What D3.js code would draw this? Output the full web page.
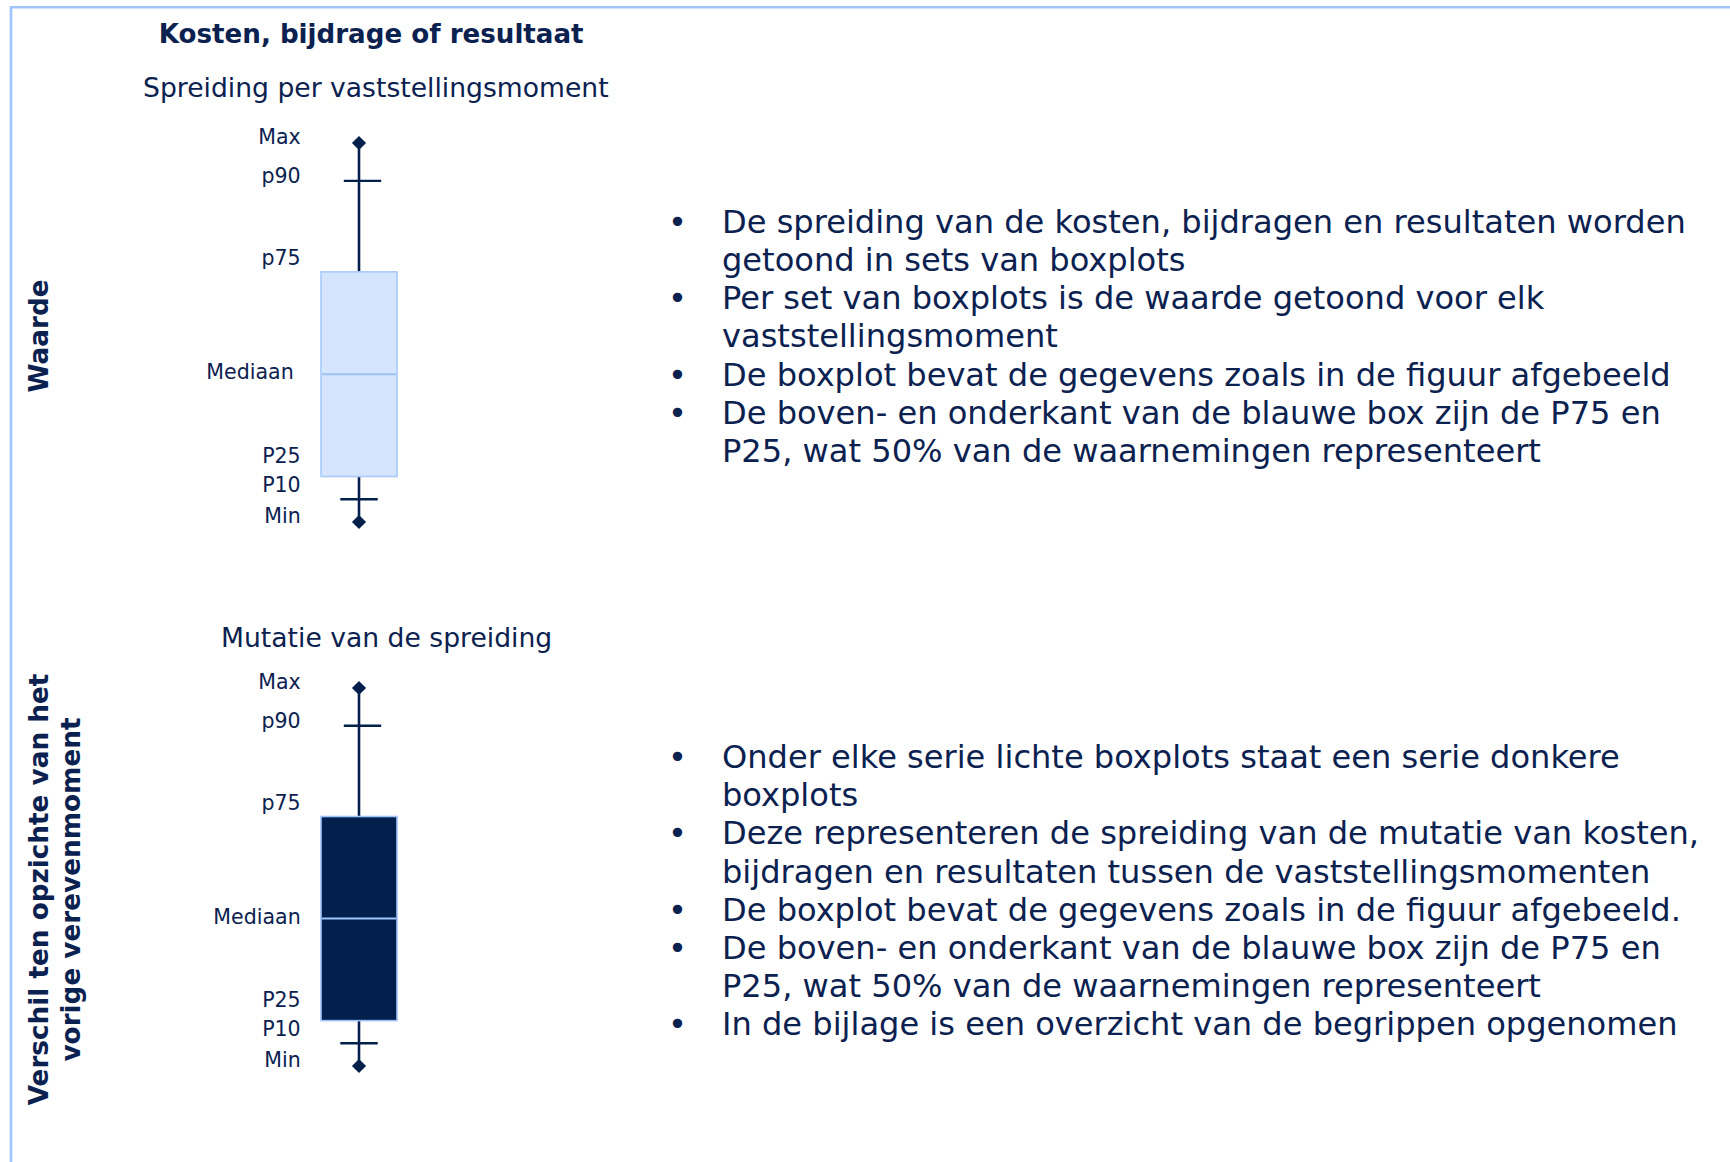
<!DOCTYPE html>
<html>
<head>
<meta charset="utf-8">
<script src="https://cdn.jsdelivr.net/npm/d3@7"></script>
<style>
  html, body { margin: 0; padding: 0; background: #ffffff; }
  svg { display: block; }
</style>
</head>
<body>
<script>
// ---- data -------------------------------------------------------------
const chartTitle = "Kosten, bijdrage of resultaat";
const panelTitles = ["Spreiding per vaststellingsmoment", "Mutatie van de spreiding"];
const rowTitles = [["Waarde"], ["Verschil ten opzichte van het", "vorige verevenmoment"]];

// statistics shown per boxplot, top to bottom
const statKeys = ["max", "p90", "p75", "median", "p25", "p10", "min"];
const statLabels = ["Max", "p90", "p75", "Mediaan", "P25", "P10", "Min"];
const spreadValues = [100, 90, 66, 39, 12, 6, 0];
const mutationValues = [100, 90, 66, 39, 12, 6, 0];

const notesSpread = [
  ["De spreiding van de kosten, bijdragen en resultaten worden", "getoond in sets van boxplots"],
  ["Per set van boxplots is de waarde getoond voor elk", "vaststellingsmoment"],
  ["De boxplot bevat de gegevens zoals in de figuur afgebeeld"],
  ["De boven- en onderkant van de blauwe box zijn de P75 en", "P25, wat 50% van de waarnemingen representeert"]
];
const notesMutation = [
  ["Onder elke serie lichte boxplots staat een serie donkere", "boxplots"],
  ["Deze representeren de spreiding van de mutatie van kosten,", "bijdragen en resultaten tussen de vaststellingsmomenten"],
  ["De boxplot bevat de gegevens zoals in de figuur afgebeeld."],
  ["De boven- en onderkant van de blauwe box zijn de P75 en", "P25, wat 50% van de waarnemingen representeert"],
  ["In de bijlage is een overzicht van de begrippen opgenomen"]
];

// ---- layout & style ---------------------------------------------------
const W = 1730, H = 1162;
const FONT = "Verdana, 'DejaVu Sans', sans-serif";
const INK = "#0b2150";
const NAVY = "#02204b";
const FRAME = "#9fc4fb";

const svg = d3.select("body").append("svg")
  .attr("width", W).attr("height", H)
  .attr("viewBox", `0 0 ${W} ${H}`);

// font size that makes `str` span `target` px
function fitSize(str, target, weight) {
  const t = svg.append("text").attr("font-family", FONT).attr("font-size", 100)
    .attr("font-weight", weight || "normal").text(str);
  const w = t.node().getComputedTextLength();
  t.remove();
  return 100 * target / w;
}

const titleSize = fitSize(chartTitle, 425, "bold");
const subSize = fitSize(panelTitles[0], 466);
const rowSize = fitSize(rowTitles[1][0], 432, "bold");
const statSize = fitSize("Mediaan", 87.4);
const noteSize = fitSize(notesSpread[0][0], 964);

// frame lines
svg.append("line").attr("x1", 11).attr("x2", W).attr("y1", 7.3).attr("y2", 7.3)
  .attr("stroke", FRAME).attr("stroke-width", 2.6);
svg.append("line").attr("x1", 11).attr("x2", 11).attr("y1", 6).attr("y2", H)
  .attr("stroke", FRAME).attr("stroke-width", 2.6);

// main title
svg.append("text").attr("x", 158.8).attr("y", 43.3)
  .attr("font-family", FONT).attr("font-weight", "bold").attr("font-size", titleSize)
  .attr("fill", INK).text(chartTitle);

const panels = [
  { values: spreadValues, yTop: 143, yBottom: 522, titleX: 143, titleY: 96.7,
    rowX: [48.3], rowY: 336, notes: notesSpread, notesY: 232.7,
    boxFill: "#d5e5fd", boxStroke: "#a9caf8", medianStroke: "#9dc2f4", medianShift: -7 },
  { values: mutationValues, yTop: 688, yBottom: 1066, titleX: 221, titleY: 646.7,
    rowX: [48.3, 80], rowY: 889.5, notes: notesMutation, notesY: 768,
    boxFill: NAVY, boxStroke: "#9fc4fb", medianStroke: "#9fc4fb", medianShift: 0 }
];

// baseline nudges of the statistic labels relative to their value
const labelDy = [1, 2, -7, 5, -14, -7, 1];
const capShift = { p90: 3.5, p10: 0 };

const x = d3.scaleBand().domain(["box"]).range([321, 397]).padding(0);
const cx = x("box") + x.bandwidth() / 2;
const capHalf = 18.7;
const diamond = d3.symbol(d3.symbolSquare, 100);
const lineH = 38.2;

panels.forEach((p, pi) => {
  const y = d3.scaleLinear().domain([0, 100]).range([p.yBottom, p.yTop]);
  const s = Object.fromEntries(statKeys.map((k, i) => [k, p.values[i]]));
  const g = svg.append("g");

  // panel subtitle
  g.append("text").attr("x", p.titleX).attr("y", p.titleY)
    .attr("font-family", FONT).attr("font-size", subSize).attr("fill", INK)
    .text(panelTitles[pi]);

  // rotated row title
  rowTitles[pi].forEach((ln, li) => {
    g.append("text")
      .attr("transform", `translate(${p.rowX[li]},${p.rowY}) rotate(-90)`)
      .attr("text-anchor", "middle")
      .attr("font-family", FONT).attr("font-weight", "bold").attr("font-size", rowSize)
      .attr("fill", INK).text(ln);
  });

  // whiskers
  g.append("line").attr("x1", cx).attr("x2", cx).attr("y1", y(s.max)).attr("y2", y(s.p75))
    .attr("stroke", NAVY).attr("stroke-width", 2.6);
  g.append("line").attr("x1", cx).attr("x2", cx).attr("y1", y(s.p25)).attr("y2", y(s.min))
    .attr("stroke", NAVY).attr("stroke-width", 2.6);
  [["p90", s.p90], ["p10", s.p10]].forEach(([k, v]) => {
    g.append("line")
      .attr("x1", cx - capHalf + capShift[k]).attr("x2", cx + capHalf + capShift[k])
      .attr("y1", y(v)).attr("y2", y(v))
      .attr("stroke", NAVY).attr("stroke-width", 2.4);
  });
  [s.max, s.min].forEach(v => {
    g.append("path").attr("d", diamond)
      .attr("transform", `translate(${cx},${y(v)}) rotate(45)`)
      .attr("fill", NAVY);
  });

  // box
  g.append("rect")
    .attr("x", x("box")).attr("width", x.bandwidth())
    .attr("y", y(s.p75)).attr("height", y(s.p25) - y(s.p75))
    .attr("fill", p.boxFill).attr("stroke", p.boxStroke).attr("stroke-width", 1.6);
  g.append("line").attr("x1", x("box") + 1).attr("x2", x("box") + x.bandwidth() - 1)
    .attr("y1", y(s.median)).attr("y2", y(s.median))
    .attr("stroke", p.medianStroke).attr("stroke-width", 2);

  // statistic labels
  statKeys.forEach((k, i) => {
    g.append("text")
      .attr("x", 300.7 + (k === "median" ? p.medianShift : 0))
      .attr("y", y(p.values[i]) + labelDy[i])
      .attr("text-anchor", "end")
      .attr("font-family", FONT).attr("font-size", statSize).attr("fill", INK)
      .text(statLabels[i]);
  });

  // explanatory bullets
  let row = 0;
  p.notes.forEach(item => {
    item.forEach((ln, li) => {
      const by = p.notesY + row * lineH;
      if (li === 0) {
        g.append("text").attr("x", 677.5).attr("y", by).attr("text-anchor", "middle")
          .attr("font-family", FONT).attr("font-size", noteSize).attr("fill", INK).text("•");
      }
      g.append("text").attr("x", 722).attr("y", by)
        .attr("font-family", FONT).attr("font-size", noteSize).attr("fill", INK).text(ln);
      row++;
    });
  });
});
</script>
</body>
</html>
